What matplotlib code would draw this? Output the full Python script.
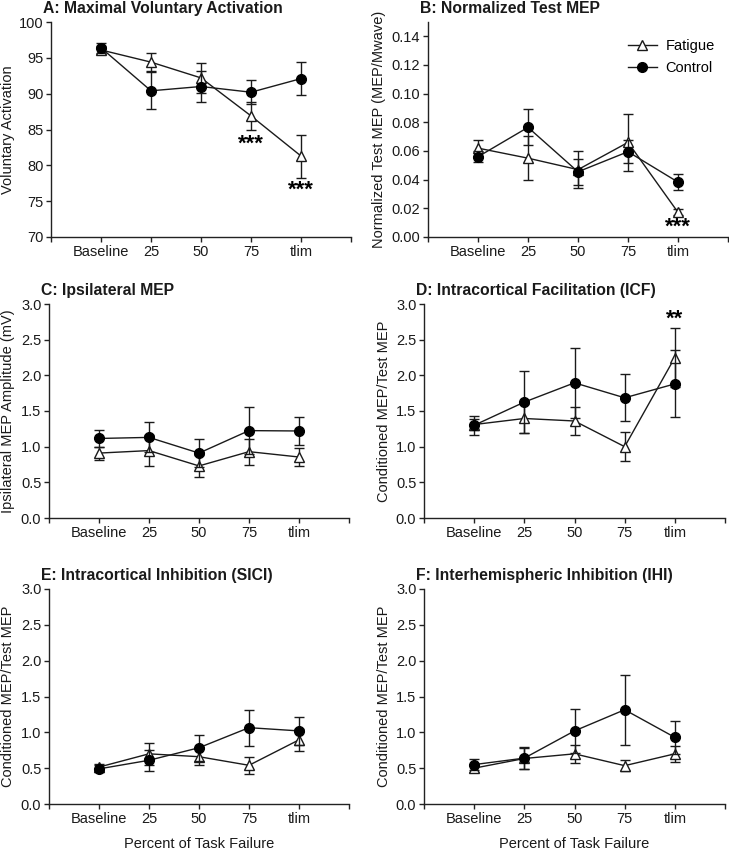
import matplotlib
matplotlib.use("Agg")
import matplotlib.pyplot as plt
from matplotlib.lines import Line2D

plt.rcParams['font.family'] = ['Liberation Sans', 'DejaVu Sans']

# Data (mean, error)
x_labels = ['Baseline', '25', '50', '75', 'tlim']
x_pos = [1, 2, 3, 4, 5]

va_fat = [96.1, 94.4, 92.2, 86.9, 81.3]
va_fat_err = [0.5, 1.3, 2.1, 1.9, 3.0]
va_con = [96.4, 90.4, 91.0, 90.2, 92.1]
va_con_err = [0.7, 2.6, 2.1, 1.7, 2.3]

mep_fat = [0.062, 0.055, 0.047, 0.066, 0.0172]
mep_fat_err = [0.006, 0.0155, 0.013, 0.020, 0.002]
mep_con = [0.056, 0.0765, 0.0455, 0.0595, 0.0383]
mep_con_err = [0.004, 0.0125, 0.009, 0.008, 0.0055]

ipsi_fat = [0.91, 0.945, 0.73, 0.93, 0.855]
ipsi_fat_err = [0.09, 0.22, 0.16, 0.18, 0.13]
ipsi_con = [1.115, 1.13, 0.91, 1.225, 1.22]
ipsi_con_err = [0.12, 0.21, 0.20, 0.33, 0.20]

icf_fat = [1.31, 1.395, 1.36, 1.0, 2.25]
icf_fat_err = [0.08, 0.21, 0.20, 0.20, 0.41]
icf_con = [1.30, 1.625, 1.895, 1.685, 1.88]
icf_con_err = [0.13, 0.43, 0.49, 0.33, 0.47]

sici_fat = [0.515, 0.70, 0.66, 0.54, 0.895]
sici_fat_err = [0.05, 0.15, 0.12, 0.12, 0.15]
sici_con = [0.49, 0.61, 0.785, 1.065, 1.02]
sici_con_err = [0.05, 0.15, 0.18, 0.25, 0.19]

ihi_fat = [0.50, 0.635, 0.70, 0.535, 0.70]
ihi_fat_err = [0.05, 0.15, 0.13, 0.08, 0.11]
ihi_con = [0.55, 0.64, 1.02, 1.315, 0.93]
ihi_con_err = [0.08, 0.15, 0.31, 0.49, 0.23]

panels = [
    dict(title='A: Maximal Voluntary Activation', ylabel='Voluntary Activation',
         fat=va_fat, fat_err=va_fat_err, con=va_con, con_err=va_con_err,
         ylim=(70, 100), yticks=[70, 75, 80, 85, 90, 95, 100], fmt='{:.0f}',
         stars=[(4, 83.0, '***'), (5, 76.5, '***')]),
    dict(title='B: Normalized Test MEP', ylabel='Normalized Test MEP (MEP/Mwave)',
         fat=mep_fat, fat_err=mep_fat_err, con=mep_con, con_err=mep_con_err,
         ylim=(0, 0.15), yticks=[0, 0.02, 0.04, 0.06, 0.08, 0.10, 0.12, 0.14], fmt='{:.2f}',
         stars=[(5, 0.0068, '***')]),
    dict(title='C: Ipsilateral MEP', ylabel='Ipsilateral MEP Amplitude (mV)',
         fat=ipsi_fat, fat_err=ipsi_fat_err, con=ipsi_con, con_err=ipsi_con_err,
         ylim=(0, 3), yticks=[0, 0.5, 1, 1.5, 2, 2.5, 3], fmt='{:.1f}', stars=[]),
    dict(title='D: Intracortical Facilitation (ICF)', ylabel='Conditioned MEP/Test MEP',
         fat=icf_fat, fat_err=icf_fat_err, con=icf_con, con_err=icf_con_err,
         ylim=(0, 3), yticks=[0, 0.5, 1, 1.5, 2, 2.5, 3], fmt='{:.1f}',
         stars=[(5, 2.79, '**')]),
    dict(title='E: Intracortical Inhibition (SICI)', ylabel='Conditioned MEP/Test MEP',
         fat=sici_fat, fat_err=sici_fat_err, con=sici_con, con_err=sici_con_err,
         ylim=(0, 3), yticks=[0, 0.5, 1, 1.5, 2, 2.5, 3], fmt='{:.1f}', stars=[]),
    dict(title='F: Interhemispheric Inhibition (IHI)', ylabel='Conditioned MEP/Test MEP',
         fat=ihi_fat, fat_err=ihi_fat_err, con=ihi_con, con_err=ihi_con_err,
         ylim=(0, 3), yticks=[0, 0.5, 1, 1.5, 2, 2.5, 3], fmt='{:.1f}', stars=[]),
]

# axes rectangles in pixels: left, top, right, bottom (fig is 729x850)
W, H = 729, 850
rects = [
    (51, 22, 351, 237),
    (428, 22, 728, 237),
    (49, 304, 349, 518),
    (424, 304, 725, 518),
    (49, 589, 349, 804),
    (424, 589, 725, 804),
]
# x pixel of the right edge of each rotated y label
label_right = [15, 386, 15, 391, 15, 391]

fig = plt.figure(figsize=(7.29, 8.5), dpi=100)
fig.patch.set_facecolor('white')

for i, (p, r) in enumerate(zip(panels, rects)):
    l, t, rr, b = r
    ax = fig.add_axes([l / W, 1 - b / H, (rr - l) / W, (b - t) / H])

    ax.errorbar(x_pos, p['fat'], yerr=p['fat_err'], color='#1a1a1a', lw=1.0,
                marker='^', markersize=7, markerfacecolor='white',
                markeredgecolor='#1a1a1a', markeredgewidth=1.0,
                capsize=3.5, elinewidth=1.0, capthick=1.0, zorder=3)
    ax.errorbar(x_pos, p['con'], yerr=p['con_err'], color='#1a1a1a', lw=1.0,
                marker='o', markersize=7, markerfacecolor='black',
                markeredgecolor='black',
                capsize=3.5, elinewidth=1.0, capthick=1.0, zorder=4)

    for sx, sy, s in p['stars']:
        ax.text(sx, sy, s, ha='center', va='center', fontsize=16, fontweight='bold')

    ax.set_xlim(0, 6)
    ax.set_ylim(*p['ylim'])
    ax.set_xticks([0, 1, 2, 3, 4, 5, 6])
    ax.set_xticklabels([''] + x_labels + [''])
    ax.set_yticks(p['yticks'])
    ax.set_yticklabels([p['fmt'].format(v) for v in p['yticks']])
    ax.tick_params(axis='both', labelsize=10.5, length=3.5, width=1.0, colors='#222222',
                   labelcolor='#1a1a1a', pad=2)
    for side in ['top', 'right']:
        ax.spines[side].set_visible(False)
    for side in ['left', 'bottom']:
        ax.spines[side].set_linewidth(1.0)
        ax.spines[side].set_color('#222222')

    ax.set_ylabel(p['ylabel'], fontsize=10.5, color='#1a1a1a')
    ax.yaxis.set_label_coords((label_right[i] - l) / (rr - l), 0.5)

    ax.text(-8 / (rr - l), 1 + 6 / (b - t), p['title'], transform=ax.transAxes,
            ha='left', va='bottom', fontsize=11.3, fontweight='bold', color='#1a1a1a')

    if i >= 4:
        ax.set_xlabel('Percent of Task Failure', fontsize=10.5, color='#1a1a1a', labelpad=8)

    if i == 1:
        handles = [
            Line2D([], [], color='#1a1a1a', lw=1.0, marker='^', markersize=7,
                   markerfacecolor='white', markeredgecolor='#1a1a1a'),
            Line2D([], [], color='#1a1a1a', lw=1.0, marker='o', markersize=7,
                   markerfacecolor='black', markeredgecolor='black'),
        ]
        ax.legend(handles, ['Fatigue', 'Control'], loc='upper right',
                  bbox_to_anchor=(1.0, 0.98), frameon=False,
                  fontsize=10.5, handlelength=2.0, handletextpad=0.6, labelspacing=0.5)

fig.savefig('out.png', dpi=100, facecolor='white')
